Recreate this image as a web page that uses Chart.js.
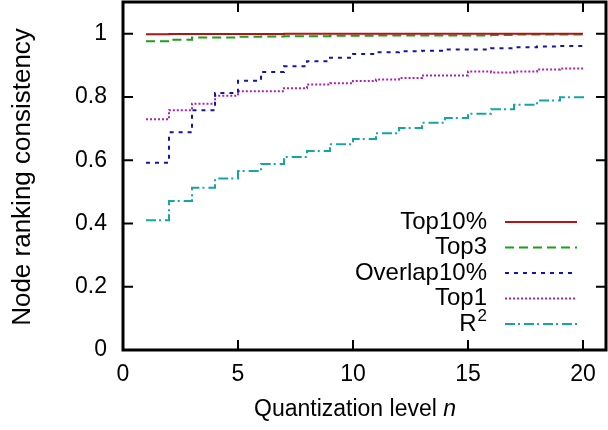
<!DOCTYPE html>
<html lang="en">
<head>
  <meta charset="UTF-8">
  <title>Node ranking consistency</title>
  <script src="https://cdn.jsdelivr.net/npm/chart.js"></script>
  <style>
    * { margin: 0; padding: 0; box-sizing: border-box; }
    body { background: #fff; width: 608px; height: 430px; overflow: hidden; }
    #wrap { width: 608px; height: 430px; position: relative; }
  </style>
</head>
<body>
  <div id="wrap"><canvas id="chart"></canvas></div>

  <script>
    // quantization levels
    const levels = [1, 2, 3, 4, 5, 6, 7, 8, 9, 10, 11, 12, 13, 14, 15, 16, 17, 18, 19, 20];

    const top10 = [0.998, 0.999, 0.999, 0.999, 0.999, 0.999, 1, 1, 1, 1, 1, 1, 1, 1, 1, 1, 1, 1, 1, 1];
    const top3 = [0.976, 0.981, 0.988, 0.988, 0.990, 0.991, 0.992, 0.992, 0.993, 0.993, 0.994, 0.994, 0.994, 0.994, 0.994, 0.996, 0.997, 0.997, 0.997, 0.997];
    const overlap10 = [0.592, 0.688, 0.758, 0.812, 0.851, 0.879, 0.897, 0.913, 0.924, 0.936, 0.941, 0.944, 0.946, 0.950, 0.950, 0.954, 0.957, 0.959, 0.961, 0.964];
    const top1 = [0.729, 0.758, 0.778, 0.804, 0.818, 0.818, 0.827, 0.839, 0.843, 0.850, 0.855, 0.860, 0.868, 0.868, 0.880, 0.877, 0.880, 0.887, 0.890, 0.890];
    const r2 = [0.410, 0.471, 0.513, 0.542, 0.566, 0.588, 0.610, 0.629, 0.650, 0.667, 0.685, 0.702, 0.718, 0.733, 0.747, 0.761, 0.775, 0.789, 0.799, 0.808];

    const xTicks = [0, 5, 10, 15, 20];
    const yTicks = [0, 0.2, 0.4, 0.6, 0.8, 1];

    const FONT = "'Liberation Sans', Arial, Helvetica, sans-serif";

    const series = [
      { label: 'Top10%', data: top10, color: '#b01515', dash: [] },
      { label: 'Top3', data: top3, color: '#1aa01a', dash: [9, 5] },
      { label: 'Overlap10%', data: overlap10, color: '#1515a5', dash: [4, 5] },
      { label: 'Top1', data: top1, color: '#b020b0', dash: [2, 2] },
      { label: 'R2', data: r2, color: '#15a5a5', dash: [10, 3, 2, 4] }
    ];

    // border, inward ticks on all sides, axis titles and the key
    const gnuplotFrame = {
      id: 'gnuplotFrame',
      afterDatasetsDraw(chart) {
        const { ctx, chartArea: a, scales } = chart;
        const x = scales.x, y = scales.y;
        const tl = 10;
        ctx.save();
        ctx.strokeStyle = '#000';
        ctx.lineWidth = 2;
        ctx.beginPath();
        xTicks.forEach(v => {
          const px = x.getPixelForValue(v);
          ctx.moveTo(px, a.bottom); ctx.lineTo(px, a.bottom - tl);
          ctx.moveTo(px, a.top); ctx.lineTo(px, a.top + tl);
        });
        yTicks.forEach(v => {
          const py = y.getPixelForValue(v);
          ctx.moveTo(a.left, py); ctx.lineTo(a.left + tl, py);
          ctx.moveTo(a.right, py); ctx.lineTo(a.right - tl, py);
        });
        ctx.stroke();
        ctx.lineWidth = 3;
        ctx.strokeRect(a.left, a.top, a.right - a.left, a.bottom - a.top);

        // key
        ctx.textBaseline = 'middle';
        const textRight = a.right - 119;
        const lineL = a.right - 101, lineR = a.right - 29;
        chart.data.datasets.forEach((ds, i) => {
          const ry = a.bottom - 26 - (4 - i) * 25.5;
          ctx.fillStyle = '#000';
          ctx.textAlign = 'right';
          if (ds.label === 'R2') {
            ctx.font = '17px ' + FONT;
            ctx.fillText('2', textRight, ry - 8);
            const w2 = ctx.measureText('2').width;
            ctx.font = '24px ' + FONT;
            ctx.fillText('R', textRight - w2 - 1, ry);
          } else {
            ctx.font = '24px ' + FONT;
            ctx.fillText(ds.label, textRight, ry);
          }
          ctx.strokeStyle = ds.borderColor;
          ctx.lineWidth = 2;
          ctx.setLineDash(ds.borderDash);
          ctx.beginPath();
          ctx.moveTo(lineL, ry); ctx.lineTo(lineR, ry);
          ctx.stroke();
          ctx.setLineDash([]);
        });

        // x title with italic n
        ctx.fillStyle = '#000';
        ctx.textAlign = 'left';
        ctx.textBaseline = 'middle';
        ctx.font = '23px ' + FONT;
        const part = 'Quantization level ';
        const w1 = ctx.measureText(part).width;
        ctx.font = 'italic 23px ' + FONT;
        const wn = ctx.measureText('n').width;
        const cx = x.getPixelForValue(10) + 2;
        const sx = cx - (w1 + wn) / 2;
        ctx.font = '23px ' + FONT;
        ctx.fillText(part, sx, 410);
        ctx.font = 'italic 23px ' + FONT;
        ctx.fillText('n', sx + w1, 410);

        // y title
        ctx.translate(23, (a.top + a.bottom) / 2 + 1);
        ctx.rotate(-Math.PI / 2);
        ctx.textAlign = 'center';
        ctx.font = '26px ' + FONT;
        ctx.fillText('Node ranking consistency', 0, 0);
        ctx.restore();
      }
    };

    new Chart(document.getElementById('chart').getContext('2d'), {
      type: 'line',
      data: {
        datasets: series.map(s => ({
          label: s.label,
          data: levels.map((lv, i) => ({ x: lv, y: s.data[i] })),
          borderColor: s.color,
          borderDash: s.dash,
          borderWidth: 2,
          pointRadius: 0,
          stepped: true,
          fill: false
        }))
      },
      options: {
        responsive: true,
        maintainAspectRatio: false,
        animation: false,
        layout: { padding: { top: 2, right: 2, left: 0, bottom: 0 } },
        plugins: { legend: { display: false }, tooltip: { enabled: false } },
        scales: {
          x: {
            type: 'linear',
            min: 0,
            max: 21,
            afterBuildTicks: s => { s.ticks = xTicks.map(v => ({ value: v })); },
            afterFit: s => { s.height = 80; s.paddingLeft = 0; s.paddingRight = 0; },
            grid: { display: false, drawTicks: false },
            border: { display: false },
            ticks: { color: '#000', padding: 11, maxRotation: 0, font: { family: FONT, size: 23 } }
          },
          y: {
            min: 0,
            max: 1.1,
            afterBuildTicks: s => { s.ticks = yTicks.map(v => ({ value: v })); },
            afterFit: s => { s.width = 123; s.paddingTop = 0; s.paddingBottom = 0; },
            grid: { display: false, drawTicks: false },
            border: { display: false },
            ticks: {
              color: '#000',
              padding: 16,
              font: { family: FONT, size: 23 },
              callback: v => String(Number(v.toFixed(1)))
            }
          }
        }
      },
      plugins: [gnuplotFrame]
    });
  </script>
</body>
</html>
